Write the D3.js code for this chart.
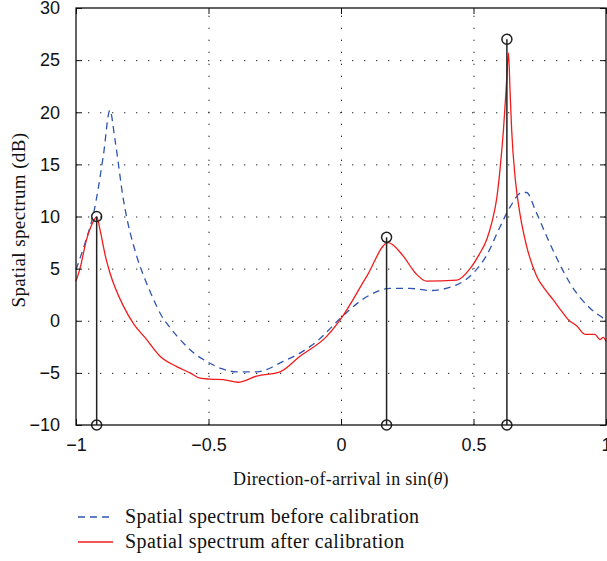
<!DOCTYPE html>
<html>
<head>
<meta charset="utf-8">
<script src="https://cdn.jsdelivr.net/npm/d3@7"></script>
<style>
  body { margin: 0; background: #fff; }
  svg { display: block; font-family: "Liberation Serif", "DejaVu Serif", serif; }
  .tick text { font-size: 18px; fill: #111; }
</style>
</head>
<body>
<svg id="chart" width="607" height="561"></svg>
<script>
// ── Data ─────────────────────────────────────────────────────────────
const xTicks = [-1, -0.5, 0, 0.5, 1];
const yTicks = [-10, -5, 0, 5, 10, 15, 20, 25, 30];

const beforeX = [-1, -0.966, -0.932, -0.897, -0.872, -0.853, -0.821, -0.771, -0.74, -0.71,
  -0.68, -0.65, -0.6, -0.55, -0.5, -0.45, -0.394, -0.318, -0.218, -0.155,
  -0.092, 0, 0.097, 0.185, 0.26, 0.336, 0.437, 0.5, 0.55, 0.6,
  0.64, 0.682, 0.7, 0.735, 0.776, 0.82, 0.864, 0.94, 1.0];
const beforeY = [4.9, 7.45, 10.5, 15.8, 20.2, 17.4, 11.6, 6.2, 4.0, 2.2,
  0.6, -0.5, -2.0, -3.2, -4.0, -4.6, -4.9, -4.9, -3.9, -3.1,
  -2.0, 0.3, 2.3, 3.1, 3.1, 2.9, 3.45, 4.6, 6.3, 9.0,
  11.0, 12.3, 12.3, 10.5, 8.1, 5.7, 3.6, 1.2, 0.1];

const afterX = [-1, -0.985, -0.96, -0.935, -0.922, -0.909, -0.89, -0.872, -0.821, -0.78,
  -0.74, -0.683, -0.62, -0.57, -0.532, -0.494, -0.444, -0.388, -0.318, -0.23,
  -0.155, -0.054, 0, 0.097, 0.178, 0.235, 0.28, 0.323, 0.437, 0.487,
  0.52, 0.55, 0.57, 0.588, 0.6, 0.613, 0.625, 0.632, 0.638, 0.644,
  0.658, 0.675, 0.7, 0.738, 0.77, 0.801, 0.83, 0.858, 0.89, 0.921,
  0.958, 0.977, 0.99, 1.0];
const afterY = [3.8, 5.0, 7.8, 9.5, 9.95, 8.7, 6.3, 4.6, 1.4, -0.4,
  -1.6, -3.4, -4.4, -5.0, -5.5, -5.6, -5.65, -5.9, -5.3, -4.9,
  -3.4, -1.5, 0.2, 4.25, 7.5, 6.2, 4.6, 3.8, 3.9, 5.0,
  6.3, 7.8, 9.5, 11.8, 14.5, 18.3, 23, 25.7, 22, 18.3,
  13.5, 10.3, 7.2, 4.3, 3.0, 2.0, 1.0, 0.1, -0.5, -1.3,
  -1.3, -1.8, -1.6, -2.0];

const stemX = [-0.922, 0.172, 0.626];
const stemY = [10, 8, 27];

const legendLabels = ['Spatial spectrum before calibration', 'Spatial spectrum after calibration'];

// ── Layout ───────────────────────────────────────────────────────────
const plot = { left: 76, top: 8, right: 606, bottom: 425 };
const svg = d3.select('#chart');

const x = d3.scaleLinear().domain([-1, 1]).range([plot.left, plot.right]);
const y = d3.scaleLinear().domain([-10, 30]).range([plot.bottom, plot.top]);

const fmt = d3.format('');

// ── Grid (dotted) ────────────────────────────────────────────────────
const grid = svg.append('g').attr('stroke', '#222').attr('stroke-width', 1)
  .attr('stroke-dasharray', '1.3,10.7');
grid.selectAll('line.gx')
  .data(xTicks.slice(1, -1))
  .join('line')
  .attr('x1', d => x(d) + 0.5).attr('x2', d => x(d) + 0.5)
  .attr('y1', plot.bottom).attr('y2', plot.top);
grid.selectAll('line.gy')
  .data(yTicks.slice(1, -1))
  .join('line')
  .attr('x1', plot.left).attr('x2', plot.right)
  .attr('y1', d => y(d) + 0.5).attr('y2', d => y(d) + 0.5);

// ── Curves ───────────────────────────────────────────────────────────
const line = d3.line()
  .x(d => x(d[0]))
  .y(d => y(d[1]))
  .curve(d3.curveMonotoneX);

svg.append('path')
  .datum(beforeX.map((v, i) => [v, beforeY[i]]))
  .attr('fill', 'none')
  .attr('stroke', '#2f55b0')
  .attr('stroke-width', 1.3)
  .attr('stroke-dasharray', '7,5')
  .attr('d', line);

svg.append('path')
  .datum(afterX.map((v, i) => [v, afterY[i]]))
  .attr('fill', 'none')
  .attr('stroke', '#f01c1c')
  .attr('stroke-width', 1.3)
  .attr('d', line);

// ── Stems ────────────────────────────────────────────────────────────
const stems = svg.append('g').attr('stroke', '#222').attr('stroke-width', 1.5).attr('fill', 'none');
stemX.forEach((sx, i) => {
  stems.append('line')
    .attr('x1', x(sx)).attr('x2', x(sx))
    .attr('y1', y(-10)).attr('y2', y(stemY[i]));
  stems.append('circle').attr('cx', x(sx)).attr('cy', y(stemY[i])).attr('r', 5);
  stems.append('circle').attr('cx', x(sx)).attr('cy', y(-10)).attr('r', 5);
});

// ── Axes ─────────────────────────────────────────────────────────────
const tickLen = 6;
const xAxis = svg.append('g')
  .attr('transform', `translate(0,${plot.bottom})`)
  .call(d3.axisBottom(x).tickValues(xTicks).tickFormat(fmt).tickSize(-tickLen).tickPadding(tickLen + 7));
const yAxis = svg.append('g')
  .attr('transform', `translate(${plot.left},0)`)
  .call(d3.axisLeft(y).tickValues(yTicks).tickFormat(fmt).tickSize(-tickLen).tickPadding(tickLen + 10));
const xTop = svg.append('g')
  .attr('transform', `translate(0,${plot.top})`)
  .call(d3.axisTop(x).tickValues(xTicks).tickFormat('').tickSize(-tickLen));
const yRight = svg.append('g')
  .attr('transform', `translate(${plot.right},0)`)
  .call(d3.axisRight(y).tickValues(yTicks).tickFormat('').tickSize(-tickLen));

[xAxis, yAxis, xTop, yRight].forEach(a => {
  a.select('.domain').remove();
  a.selectAll('.tick line').attr('stroke', '#111');
});

svg.append('rect')
  .attr('x', plot.left).attr('y', plot.top)
  .attr('width', plot.right - plot.left).attr('height', plot.bottom - plot.top)
  .attr('fill', 'none').attr('stroke', '#111').attr('stroke-width', 1.3);

// ── Axis labels ──────────────────────────────────────────────────────
svg.append('text')
  .attr('x', (plot.left + plot.right) / 2).attr('y', 485)
  .attr('text-anchor', 'middle').attr('font-size', 18).attr('letter-spacing', 0.3).attr('fill', '#111')
  .html('Direction-of-arrival in sin(<tspan font-style="italic">θ</tspan>)');

svg.append('text')
  .attr('transform', `translate(25,220) rotate(-90)`)
  .attr('text-anchor', 'middle').attr('font-size', 19).attr('letter-spacing', 0.4).attr('fill', '#111')
  .text('Spatial spectrum (dB)');

// ── Legend ───────────────────────────────────────────────────────────
const legend = svg.append('g');
const legendStyles = [
  { color: '#2f55b0', dash: '7,5' },
  { color: '#f01c1c', dash: null }
];
legendLabels.forEach((label, i) => {
  const ly = 517 + i * 25;
  legend.append('line')
    .attr('x1', 78).attr('x2', 113).attr('y1', ly).attr('y2', ly)
    .attr('stroke', legendStyles[i].color).attr('stroke-width', 1.3)
    .attr('stroke-dasharray', legendStyles[i].dash);
  legend.append('text')
    .attr('x', 125).attr('y', ly + 6)
    .attr('font-size', 20).attr('letter-spacing', 0.4).attr('fill', '#111')
    .text(label);
});
</script>
</body>
</html>
